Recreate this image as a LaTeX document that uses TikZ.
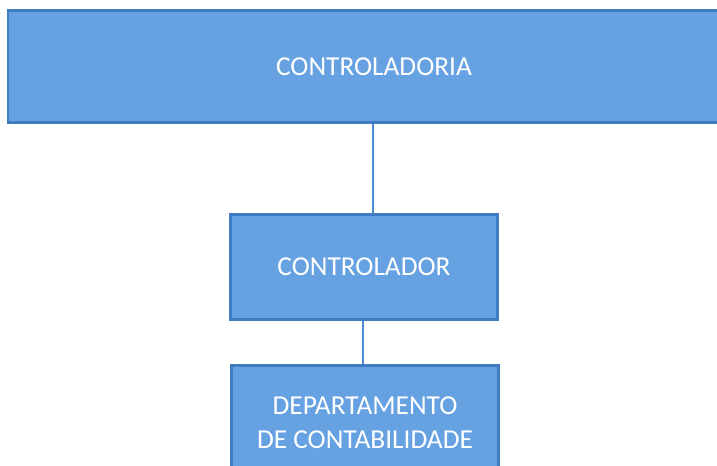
\documentclass[tikz,border=0pt]{standalone}
\usepackage{fontspec}
\setmainfont{Carlito}
\usepackage{tikz}
\usetikzlibrary{positioning}

\definecolor{caixaazul}{RGB}{102,162,226}
\definecolor{bordaazul}{RGB}{64,124,194}
\definecolor{linhaazul}{RGB}{78,140,208}

\begin{document}
\begin{tikzpicture}[x=0.75pt,y=-0.75pt,
    caixa/.style={rectangle, draw=bordaazul, line width=2.2pt, fill=caixaazul,
        text=white, font=\fontsize{20.5}{25.5}\selectfont, align=center},
    ligacao/.style={draw=linhaazul, line width=1.2pt}]
                \useasboundingbox (0,0) rectangle (717,466);
                \clip (0,0) rectangle (717,466);
                \node[caixa, minimum width=549pt, minimum height=84pt] (controladoria) at (374,66.5){CONTROLADORIA};
                \node[caixa, minimum width=200pt, minimum height=79pt] (controlador) at (364,267){CONTROLADOR};
                \node[caixa, minimum width=200pt, minimum height=86pt] (departamento) at (365,423){DEPARTAMENTO\\DE CONTABILIDADE};
                \coordinate (desce) at ([xshift=6.75pt]controlador.north);
                \draw[ligacao] (desce) -- (desce |- controladoria.south);
                \coordinate (sobe) at ([xshift=-1.5pt]departamento.north);
                \draw[ligacao] (sobe) -- (sobe |- controlador.south);
            \end{tikzpicture}
\end{document}
